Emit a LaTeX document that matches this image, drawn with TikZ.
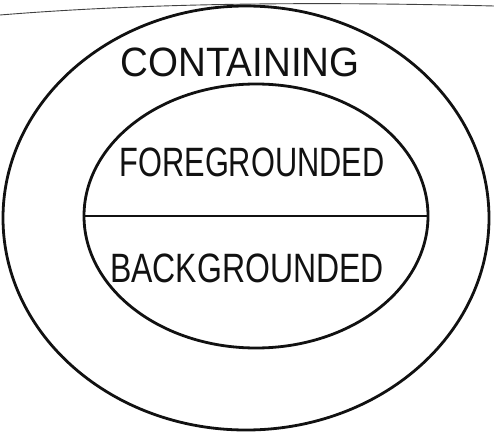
\documentclass[tikz,border=0pt]{standalone}
\usepackage{fontspec}
\setmainfont{Liberation Sans}
\usetikzlibrary{positioning, shapes.geometric}
\definecolor{ink}{HTML}{111111}
\tikzset{
  ring/.style={ellipse, draw=ink, line width=2.8pt, inner sep=0pt},
  word/.style={font=\fontsize{41}{46}\selectfont, text=ink, inner sep=0pt},
  rule/.style={draw=ink, line width=2.6pt},
  edge/.style={draw=ink!80, line width=0.9pt},
}

\begin{document}
\begin{tikzpicture}[x=1pt, y=-1pt]
  \useasboundingbox (0,0) rectangle (494,438);
  % sheet edge at the top
  \coordinate (el) at (0,15);
  \coordinate (er) at (494,6);
  \draw[edge] (el) .. controls (160,2) and (330,2) .. (er);
  % the two rings
  \node[ring, minimum width=486pt, minimum height=424pt] (outer) at (246,218) {};
  \node[ring, minimum width=344pt, minimum height=264pt] (inner) at (256,216) {};
  \draw[rule] (inner.west) -- (inner.east);
  % labels
  \node[word, xscale=0.94] (cont) at (240,62) {CONTAINING};
  \node[word, xscale=0.75] (fore) at (252,162) {FOREGROUNDED};
  \node[word, xscale=0.78] (back) at (247,268) {BACKGROUNDED};
\end{tikzpicture}
\end{document}
